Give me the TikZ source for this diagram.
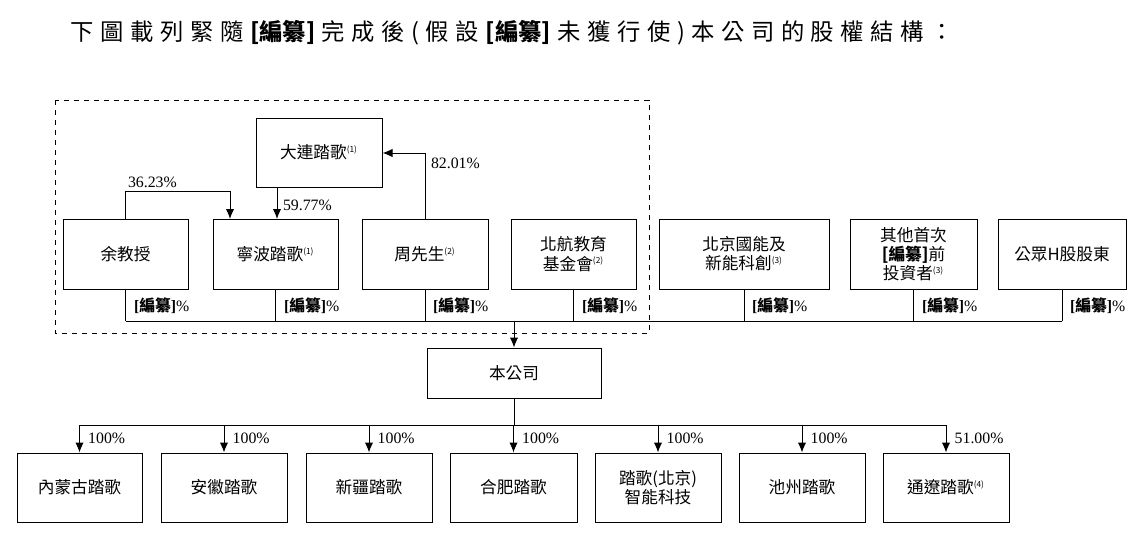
\documentclass[tikz,border=0pt]{standalone}
\usepackage{fontspec}
\usetikzlibrary{arrows.meta}
\setmainfont{Liberation Serif}
\newfontfamily\cjk{Noto Sans CJK TC}
\newfontfamily\cjkT[LetterSpace=28]{Noto Sans CJK TC}
\newcommand{\bzz}{\textbf{[{\cjk\bfseries 編纂}]}}
\newcommand{\sfn}[1]{\textsuperscript{\tiny(#1)}}
\begin{document}
\begin{tikzpicture}[x=0.6pt,y=-0.6pt,
  box/.style={draw,line width=0.6pt,inner sep=0pt,align=center,font=\fontsize{10}{11.5}\cjk},
  ln/.style={line width=0.6pt},
  arr/.style={ln,-{Latex[length=6pt,width=5pt]}},
  pct/.style={font=\fontsize{9.5}{11}\selectfont,inner sep=1pt}]
\useasboundingbox (0,0) rectangle (1142,537);
\node[anchor=west,font=\fontsize{14}{15}\cjkT] at (65,33) {下圖載列緊隨{\bzz}完成後(假設{\bzz}未獲行使)本公司的股權結構：};
\draw[dashed,line width=0.6pt] (55,100) rectangle (649,333);
\newcommand{\bx}[6]{\node[box,minimum width=#4*0.6pt,minimum height=#5*0.6pt] (#1) at (#2,#3) {#6};}
\bx{dl}{319}{152.5}{126}{69}{大連踏歌\sfn1}
\bx{yu}{125.5}{254}{125}{70}{余教授}
\bx{nb}{275.5}{254}{125}{70}{寧波踏歌\sfn1}
\bx{zh}{425}{254}{126}{70}{周先生\sfn2}
\bx{bh}{573.5}{254}{125}{70}{北航教育\\基金會\sfn2}
\bx{bj}{744}{254}{170}{70}{北京國能及\\新能科創\sfn3}
\bx{qt}{913.5}{254}{127}{70}{其他首次\\{\bfseries[編纂]}前\\投資者\sfn3}
\bx{gz}{1062}{254}{128}{70}{公眾H股股東}
\bx{co}{514}{373}{174}{50}{本公司}
\bx{b1}{79.5}{487.5}{125}{69}{內蒙古踏歌}
\bx{b2}{224}{487.5}{126}{69}{安徽踏歌}
\bx{b3}{369}{487.5}{126}{69}{新疆踏歌}
\bx{b4}{513.5}{487.5}{127}{69}{合肥踏歌}
\bx{b5}{658}{487.5}{126}{69}{踏歌(北京)\\智能科技}
\bx{b6}{802}{487.5}{126}{69}{池州踏歌}
\bx{b7}{946}{487.5}{126}{69}{通遼踏歌\sfn4}
% upper relations
\draw[arr] (yu.north) -- ++(0,-27) -| (230,219);
\node[pct,anchor=south west] at (126,190) {36.23\%};
\draw[arr] (277,187) -- (277,219);
\node[pct,anchor=west] at (281,205) {59.77\%};
\draw[arr] (zh.north) |- (dl.east|-0,153);
\node[pct,anchor=west] at (429,163) {82.01\%};
% bus to company
\foreach \n in {yu,nb,zh,bh,bj,qt,gz} {\draw[ln] (\n.south) -- (\n.south|-0,321);}
\draw[ln] (yu.south|-0,321) -- (gz.south|-0,321);
\draw[arr] (co.north|-0,321) -- (co.north);
\foreach \n/\x in {yu/126,nb/276,zh/425,bh/574,bj/744,qt/914,gz/1062}
  {\node[pct,anchor=west] at (\x+6,306) {\bzz\%};}
% company to subsidiaries
\draw[ln] (co.south) -- (co.south|-0,425);
\draw[ln] (b1.north|-0,425) -- (b7.north|-0,425);
\foreach \n in {b1,b2,b3,b4,b5,b6} {
  \draw[arr] (\n.north|-0,425) -- (\n.north);
  \node[pct,anchor=west] at ([xshift=4pt]\n.north|-0,438) {100\%};}
\draw[arr] (b7.north|-0,425) -- (b7.north);
\node[pct,anchor=west] at ([xshift=4pt]b7.north|-0,438) {51.00\%};
\end{tikzpicture}
\end{document}
